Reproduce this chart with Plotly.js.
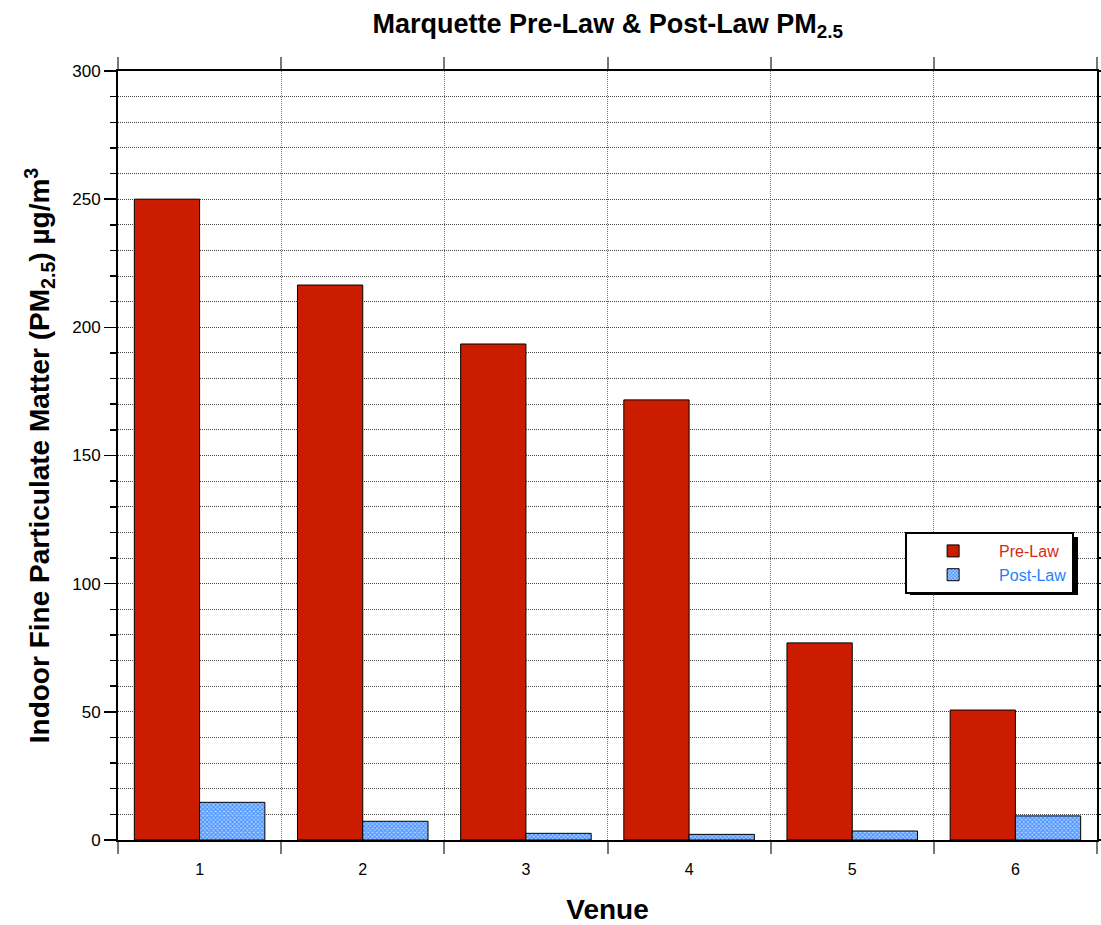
<!DOCTYPE html>
<html>
<head>
<meta charset="utf-8">
<script src="https://cdn.plot.ly/plotly-3.0.1.min.js"></script>
<style>html,body{margin:0;padding:0;background:#fff;}#chart{width:1101px;height:925px;}</style>
</head>
<body>
<div id="chart"></div>
<script>
const venues = ["1", "2", "3", "4", "5", "6"];
const preLaw = [250, 216.5, 193.5, 171.7, 76.9, 50.7];
const postLaw = [14.7, 7.3, 2.6, 2.2, 3.5, 9.4];
const seriesNames = ["Pre-Law", "Post-Law"];
const yTickVals = [0, 50, 100, 150, 200, 250, 300];

const FONT = "Liberation Sans, Arial, Helvetica, sans-serif";

const traces = [
  {
    type: "bar",
    x: venues,
    y: preLaw,
    name: '<span style="color:#d42a10">' + seriesNames[0] + '</span>',
    marker: { color: "#cc1c00", line: { color: "#000", width: 1 } }
  },
  {
    type: "bar",
    x: venues,
    y: postLaw,
    name: '<span style="color:#1f7fff">' + seriesNames[1] + '</span>',
    marker: {
      color: "#a6cbff",
      line: { color: "#000", width: 1 },
      pattern: { shape: "x", fgcolor: "#3d8cff", bgcolor: "#a6cbff", size: 3, solidity: 0.5 }
    }
  }
];

const layout = {
  width: 1101,
  height: 925,
  margin: { l: 118, r: 4, t: 71, b: 85 },
  paper_bgcolor: "#fff",
  plot_bgcolor: "#fff",
  font: { family: FONT, color: "#000" },
  barmode: "group",
  bargap: 0.2,
  bargroupgap: 0,
  showlegend: true,
  title: {
    text: "<b>Marquette Pre-Law &amp; Post-Law PM<sub>2.5</sub></b>",
    font: { family: FONT, size: 27, color: "#000" },
    x: 0.552, xanchor: "center",
    y: 0.975, yanchor: "middle"
  },
  xaxis: {
    type: "category",
    tickson: "boundaries",
    ticks: "outside",
    ticklen: 12,
    tickcolor: "#777",
    tickwidth: 2,
    showline: true,
    linecolor: "#000",
    linewidth: 2,
    mirror: "ticks",
    showgrid: true,
    gridcolor: "#777",
    griddash: "1px,1px",
    gridwidth: 1,
    ticklabelstandoff: 14,
    tickfont: { family: FONT, size: 16, color: "#000" },
    title: { text: "<b>Venue</b>", font: { family: FONT, size: 28, color: "#000" }, standoff: 22 }
  },
  yaxis: {
    range: [0, 300],
    tickvals: yTickVals,
    ticks: "outside",
    ticklen: 12,
    tickwidth: 1.5,
    tickcolor: "#000",
    showline: true,
    linecolor: "#000",
    linewidth: 2,
    mirror: "ticks",
    showgrid: true,
    gridcolor: "#444",
    griddash: "1px,1px",
    gridwidth: 1,
    zeroline: false,
    tickfont: { family: FONT, size: 17, color: "#000" },
    minor: {
      dtick: 10,
      ticks: "outside",
      ticklen: 6,
      tickwidth: 1.5,
      tickcolor: "#000",
      showgrid: true,
      gridcolor: "#444",
      griddash: "1px,1px",
      gridwidth: 1
    },
    title: {
      text: "<b>Indoor Fine Particulate Matter (PM<sub>2.5</sub>) µg/m<sup>3</sup></b>",
      font: { family: FONT, size: 28, color: "#000" },
      standoff: 14
    }
  },
  legend: {
    x: 0.804, xanchor: "left",
    y: 0.4005, yanchor: "top",
    bgcolor: "#fff",
    bordercolor: "#000",
    borderwidth: 2,
    font: { family: FONT, size: 16 },
    itemwidth: 82,
    traceorder: "normal"
  },
  shapes: [
    {
      type: "rect", xref: "paper", yref: "paper", layer: "above",
      x0: 0.809, x1: 0.9806, y0: 0.3186, y1: 0.394,
      fillcolor: "#000", line: { width: 0 }
    }
  ]
};

Plotly.newPlot("chart", traces, layout, { displayModeBar: false, staticPlot: true });
</script>
</body>
</html>
